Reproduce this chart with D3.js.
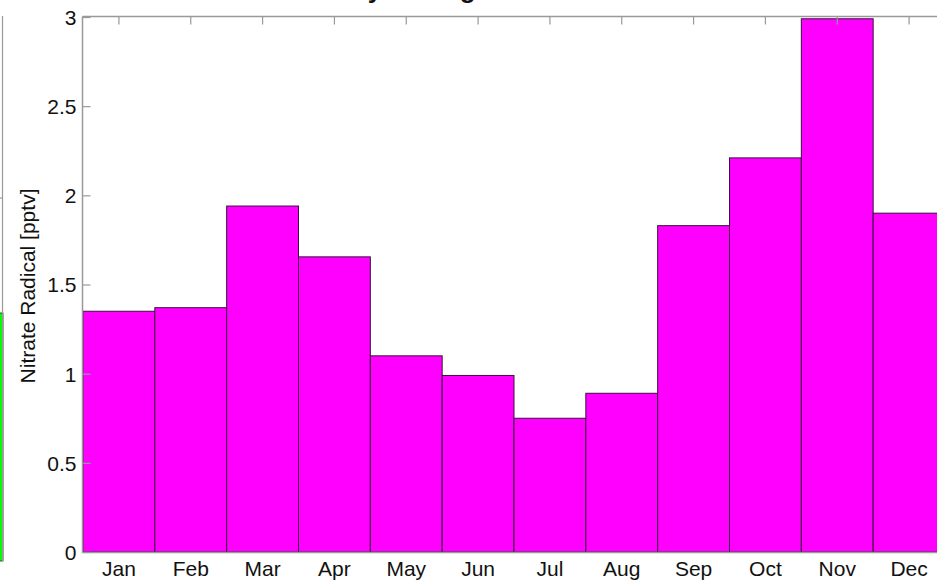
<!DOCTYPE html>
<html><head><meta charset="utf-8">
<script src="https://cdn.jsdelivr.net/npm/d3@7"></script>
<style>body{margin:0;background:#fff;} svg{display:block;}</style>
</head><body>
<svg id="c" width="937" height="584"></svg>
<script>
const months = ["Jan","Feb","Mar","Apr","May","Jun","Jul","Aug","Sep","Oct","Nov","Dec"];
const no3 = [1.35,1.37,1.94,1.655,1.10,0.99,0.75,0.89,1.83,2.21,2.99,1.90];
const yTicks = [0,0.5,1,1.5,2,2.5,3];
const yTickLabels = ["0","0.5","1","1.5","2","2.5","3"];
const titleText = "Monthly Average";
const yLabel = "Nitrate Radical [pptv]";

const svg = d3.select("#c");
const pLeft = 83, pRight = 945, pTop = 17, pBottom = 552;
const x = d3.scaleBand().domain(months).range([pLeft, pRight]).padding(0);
const y = d3.scaleLinear().domain([0,3]).range([pBottom, pTop]);
const font = "'Liberation Sans', Arial, Helvetica, sans-serif";
const fs = 21;

// partial neighbouring chart on left edge
svg.append("rect").attr("x",-2).attr("y",313).attr("width",5).attr("height",248)
  .attr("fill","#00ff00").attr("stroke","#222").attr("stroke-width",0.8);
svg.append("line").attr("x1",2.5).attr("x2",2.5).attr("y1",16).attr("y2",561)
  .attr("stroke","#999").attr("stroke-width",1.2);
svg.append("line").attr("x1",-5).attr("x2",2.5).attr("y1",198).attr("y2",198)
  .attr("stroke","#999").attr("stroke-width",1.2);

// bars
svg.append("g").selectAll("rect").data(months).join("rect")
  .attr("x", d => x(d)).attr("width", x.bandwidth())
  .attr("y", (d,i) => y(no3[i])).attr("height", (d,i) => y(0) - y(no3[i]))
  .attr("fill","#ff00ff").attr("stroke","#3a1040").attr("stroke-width",1);

// box axes
const gray = "#999";
svg.append("line").attr("x1",pLeft-0.5).attr("x2",pRight).attr("y1",pTop-0.5).attr("y2",pTop-0.5).attr("stroke",gray).attr("stroke-width",1.5);
svg.append("line").attr("x1",pLeft-0.5).attr("x2",pLeft-0.5).attr("y1",pTop-0.5).attr("y2",pBottom+0.5).attr("stroke",gray).attr("stroke-width",1.5);
svg.append("line").attr("x1",pLeft-0.5).attr("x2",pRight).attr("y1",pBottom+0.5).attr("y2",pBottom+0.5).attr("stroke",gray).attr("stroke-width",1.5);

// y axis
const yAxis = d3.axisLeft(y).tickValues(yTicks).tickFormat((d,i)=>yTickLabels[i]).tickSizeInner(-8).tickSizeOuter(0).tickPadding(6);
const gy = svg.append("g").attr("transform",`translate(${pLeft-0.5},0)`).call(yAxis);
gy.select(".domain").remove();
gy.selectAll(".tick line").attr("stroke",gray).attr("stroke-width",1.2);
gy.selectAll("text").attr("x",-6).attr("font-family",font).attr("font-size",fs).attr("fill","#111").attr("dy","0.35em");

// top ticks
const xTop = d3.axisTop(x).tickSizeInner(-8).tickSizeOuter(0).tickFormat("");
const gt = svg.append("g").attr("transform",`translate(0,${pTop-0.5})`).call(xTop);
gt.select(".domain").remove();
gt.selectAll(".tick line").attr("stroke",gray).attr("stroke-width",1.2);

// x labels
const xAxis = d3.axisBottom(x).tickSize(0).tickPadding(9);
const gx = svg.append("g").attr("transform",`translate(0,${pBottom})`).call(xAxis);
gx.select(".domain").remove();
gx.selectAll("text").attr("font-family",font).attr("font-size",fs).attr("fill","#111");

// y label
svg.append("text").attr("transform","translate(35,286) rotate(-90)")
  .attr("text-anchor","middle").attr("font-family",font).attr("font-size",fs).attr("fill","#111").text(yLabel);

// title (clipped at top)
const t = svg.append("text").attr("x",0).attr("y",-2).attr("text-anchor","start")
  .attr("font-family",font).attr("font-size",26).attr("font-weight","bold").attr("fill","#111").text(titleText);
const node = t.node();
const yIdx = titleText.indexOf("y");
const off = node.getSubStringLength(0, yIdx) + node.getSubStringLength(yIdx,1)/2;
t.attr("x", 375 - off);
</script>
</body></html>
